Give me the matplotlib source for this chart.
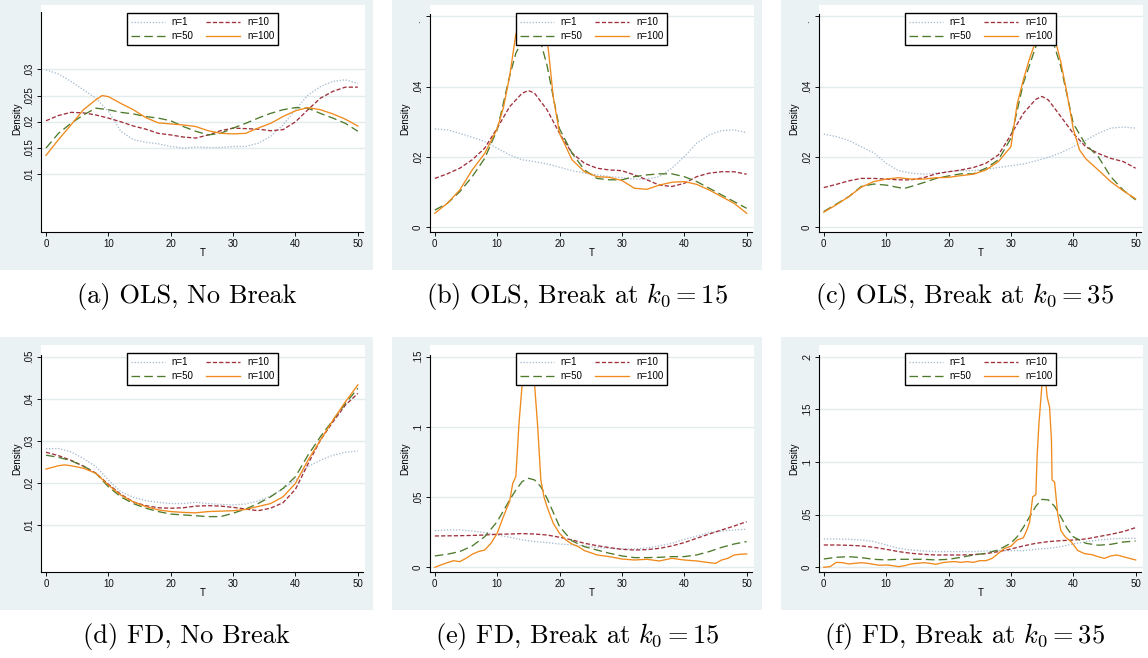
import matplotlib
matplotlib.use("Agg")
import matplotlib.pyplot as plt
from matplotlib.patches import Rectangle

plt.rcParams['mathtext.fontset'] = 'cm'

W, H = 1148, 658
BG = '#EAF2F3'
GRID = '#E2ECEE'
SANS = 'Liberation Sans'

labels = ['n=1', 'n=10', 'n=50', 'n=100']
colors = ['#A9BCD0', '#A0303C', '#4E7A2C', '#F08A1C']
styles = [(0, (1, 1.3)), (0, (3.2, 1.6)), (0, (6.5, 3.2)), '-']

captions = ['(a) OLS, No Break', r'(b) OLS, Break at $k_0 = 15$', r'(c) OLS, Break at $k_0 = 35$',
            '(d) FD, No Break', r'(e) FD, Break at $k_0 = 15$', r'(f) FD, Break at $k_0 = 35$']

t_even = [0, 2, 4, 6, 8, 10, 12, 14, 16, 18, 20, 22, 24, 26, 28, 30, 32, 34, 36, 38, 40, 42, 44, 46, 48, 50]

# (a) OLS, no break
a_n1 = [.0299, .0291, .0277, .0261, .0245, .0220, .0182, .0166, .0161, .0158, .0153, .0150, .0152,
        .0151, .0151, .0153, .0153, .0159, .0172, .0194, .0223, .0251, .0267, .0277, .0280, .0273]
a_n10 = [.0202, .0212, .0218, .0217, .0213, .0207, .0200, .0192, .0186, .0178, .0175, .0171, .0169,
         .0175, .0183, .0188, .0187, .0186, .0183, .0185, .0200, .0223, .0245, .0258, .0266, .0266]
a_n50 = [.0150, .0178, .0197, .0213, .0226, .0223, .0218, .0215, .0210, .0207, .0202, .0191, .0182,
         .0175, .0178, .0188, .0197, .0207, .0216, .0223, .0227, .0226, .0216, .0207, .0197, .0182]
a_x100 = [0, 2, 4, 6, 8, 9, 10, 12, 14, 16, 18, 20, 22, 24, 26, 28, 30, 32, 34, 36, 38, 40, 42, 44, 46, 48, 50]
a_n100 = [.0136, .0166, .0194, .0223, .0242, .0250, .0248, .0235, .0223, .0208, .0198, .0196, .0194,
          .0191, .0183, .0178, .0177, .0178, .0188, .0197, .0210, .0221, .0227, .0223, .0215, .0205, .0192]

# (b) OLS, break at 15
b_n1 = [.0280, .0277, .0267, .0256, .0244, .0225, .0206, .0192, .0187, .0180, .0171, .0161, .0154,
        .0149, .0144, .0141, .0137, .0137, .0144, .0168, .0201, .0239, .0263, .0275, .0277, .0269]
b_x10 = [0, 2, 4, 6, 8, 10, 12, 14, 15, 16, 18, 20, 22, 24, 26, 28, 30, 32, 34, 36, 38, 40, 42, 44, 46, 48, 50]
b_n10 = [.0139, .0152, .0168, .0192, .0225, .0282, .0343, .0381, .0389, .0381, .0334, .0267, .0211,
         .0182, .0168, .0163, .0161, .0149, .0135, .0120, .0116, .0125, .0144, .0154, .0158, .0158, .0151]
b_x50 = [0, 2, 4, 6, 8, 10, 12, 13, 14, 15, 16, 17, 18, 20, 22, 24, 26, 28, 30, 32, 34, 36, 38, 40, 42, 44, 46, 48, 50]
b_n50 = [.0049, .0068, .0101, .0144, .0196, .0277, .0430, .0495, .0530, .0548, .0545, .0525, .0460,
         .0280, .0211, .0163, .0139, .0135, .0135, .0144, .0149, .0152, .0152, .0144, .0130, .0111, .0092, .0073, .0054]
b_x100 = [0, 2, 4, 6, 8, 10, 11, 12, 13, 14, 15, 16, 17, 18, 19, 20, 22, 24, 26, 28, 30, 32, 34, 36, 38,
          40, 42, 44, 46, 48, 50]
b_n100 = [.0040, .0068, .0106, .0163, .0210, .0280, .0340, .0429, .0550, .0580, .0590, .0590, .0580,
          .0540, .0370, .0267, .0192, .0158, .0144, .0142, .0133, .0111, .0108, .0120, .0128, .0130, .0122,
          .0106, .0087, .0068, .0040]

# (c) OLS, break at 35
c_n1 = [.0265, .0258, .0247, .0229, .0212, .0182, .0161, .0154, .0151, .0154, .0158, .0161, .0161,
        .0165, .0170, .0175, .0180, .0189, .0199, .0212, .0229, .0248, .0267, .0282, .0285, .0282]
c_x10 = [0, 2, 4, 6, 8, 10, 12, 14, 16, 18, 20, 22, 24, 26, 28, 30, 32, 34, 35, 36, 38, 40, 42, 44, 46, 48, 50]
c_n10 = [.0113, .0122, .0132, .0139, .0139, .0137, .0135, .0135, .0141, .0152, .0158, .0163, .0170,
         .0182, .0206, .0263, .0324, .0364, .0372, .0362, .0315, .0267, .0229, .0210, .0196, .0187, .0168]
c_x50 = [0, 2, 4, 6, 8, 10, 12, 13, 14, 16, 18, 20, 22, 24, 26, 28, 30, 32, 34, 35, 36, 37, 38, 40, 42, 44, 46, 48, 50]
c_n50 = [.0045, .0066, .0087, .0116, .0123, .0120, .0113, .0111, .0116, .0127, .0139, .0146, .0152,
         .0152, .0168, .0192, .0253, .0410, .0514, .0545, .0545, .0514, .0457, .0295, .0235, .0201, .0144, .0106, .0078]
c_x100 = [0, 2, 4, 6, 8, 10, 12, 14, 16, 18, 20, 22, 24, 26, 28, 30, 31, 32, 33, 34, 35, 36, 37, 38, 39,
          40, 41, 42, 44, 46, 48, 50]
c_n100 = [.0043, .0064, .0087, .0114, .0130, .0137, .0141, .0137, .0137, .0141, .0142, .0147, .0151,
          .0163, .0187, .0229, .0350, .0420, .0480, .0530, .0565, .0570, .0540, .0470, .0380, .0280, .0220,
          .0195, .0163, .0130, .0104, .0081]

# (d) FD, no break
d_n1 = [.0281, .0282, .0274, .0258, .0239, .0207, .0179, .0166, .0158, .0154, .0151, .0151, .0154,
        .0151, .0149, .0148, .0150, .0157, .0169, .0186, .0207, .0239, .0254, .0266, .0273, .0276]
d_n10 = [.0273, .0265, .0254, .0240, .0223, .0197, .0173, .0155, .0146, .0141, .0140, .0141, .0145,
         .0146, .0145, .0142, .0138, .0134, .0140, .0153, .0185, .0245, .0302, .0345, .0385, .0413]
d_n50 = [.0266, .0261, .0253, .0240, .0223, .0191, .0167, .0151, .0140, .0132, .0126, .0124, .0122,
         .0120, .0120, .0128, .0138, .0151, .0167, .0187, .0215, .0266, .0310, .0349, .0389, .0425]
d_x100 = [0, 2, 3, 4, 6, 8, 10, 12, 14, 16, 18, 20, 22, 24, 26, 28, 30, 32, 34, 36, 38, 40, 42, 44, 46, 48, 50]
d_n100 = [.0233, .0241, .0243, .0241, .0235, .0223, .0195, .0171, .0155, .0144, .0136, .0132, .0130,
          .0129, .0132, .0133, .0134, .0137, .0144, .0151, .0167, .0199, .0254, .0302, .0349, .0393, .0433]

# (e) FD, break at 15
e_n1 = [.0261, .0266, .0266, .0259, .0247, .0230, .0214, .0195, .0183, .0176, .0166, .0159, .0152,
        .0142, .0135, .0131, .0131, .0138, .0152, .0171, .0199, .0223, .0247, .0259, .0266, .0271]
e_n10 = [.0223, .0224, .0225, .0227, .0230, .0235, .0237, .0240, .0237, .0230, .0214, .0195, .0171,
         .0154, .0140, .0128, .0123, .0126, .0135, .0152, .0176, .0207, .0237, .0266, .0294, .0325]
e_x50 = [0, 2, 4, 6, 8, 10, 12, 13, 14, 15, 16, 17, 18, 20, 22, 24, 26, 28, 30, 32, 34, 36, 38, 40, 42, 44, 46, 48, 50]
e_n50 = [.0081, .0093, .0112, .0152, .0218, .0325, .0479, .0551, .0610, .0634, .0622, .0574, .0491,
         .0290, .0188, .0147, .0123, .0100, .0081, .0069, .0069, .0071, .0076, .0076, .0088, .0112, .0142, .0166, .0183]
e_x100 = [0, 1, 2, 3, 4, 5, 6, 7, 8, 9, 10, 11, 12, 12.5, 13, 13.5, 14, 14.5, 15, 15.5, 16, 16.5, 17, 17.5,
          18, 19, 20, 21, 22, 23, 24, 25, 26, 28, 30, 32, 34, 36, 38, 40, 42, 44, 45, 46, 47, 48, 49, 50]
e_n100 = [.0000, .0017, .0033, .0047, .0040, .0064, .0093, .0112, .0123, .0171, .0242, .0361, .0470,
          .0598, .0646, .1025, .1300, .1450, .1500, .1460, .1300, .1000, .0622, .0503, .0430, .0313, .0242,
          .0195, .0166, .0147, .0119, .0104, .0088, .0076, .0059, .0052, .0057, .0045, .0064, .0052, .0045,
          .0033, .0028, .0052, .0064, .0088, .0093, .0095]

# (f) FD, break at 35
f_n1 = [.0269, .0270, .0266, .0260, .0244, .0212, .0180, .0165, .0155, .0149, .0149, .0149, .0149,
        .0155, .0158, .0158, .0158, .0171, .0180, .0196, .0222, .0244, .0259, .0269, .0275, .0275]
f_n10 = [.0212, .0212, .0209, .0203, .0190, .0171, .0149, .0133, .0123, .0117, .0117, .0117, .0120,
         .0130, .0149, .0174, .0203, .0228, .0244, .0253, .0259, .0269, .0291, .0313, .0339, .0377]
f_x50 = [0, 2, 4, 6, 8, 10, 12, 14, 16, 18, 20, 22, 24, 26, 28, 30, 31, 32, 33, 34, 35, 36, 37, 38, 39,
         40, 42, 44, 46, 48, 50]
f_n50 = [.0079, .0095, .0101, .0092, .0076, .0070, .0076, .0076, .0076, .0070, .0076, .0095, .0117,
         .0133, .0165, .0230, .0290, .0380, .0480, .0580, .0645, .0640, .0580, .0480, .0370, .0290, .0228,
         .0210, .0218, .0240, .0250]
f_x100 = [0, 1, 2, 3, 4, 5, 6, 7, 8, 9, 10, 11, 12, 13, 14, 15, 16, 17, 18, 19, 20, 21, 22, 23, 24, 25,
          26, 27, 28, 29, 30, 31, 32, 32.6, 33, 33.5, 34, 34.2, 34.5, 35, 35.4, 35.8, 36.2, 36.5, 36.6, 37,
          37.5, 38, 38.7, 39.7, 40.7, 41.8, 43, 44, 45, 46, 47, 48, 49, 50]
f_n100 = [.0000, .0006, .0047, .0044, .0032, .0038, .0044, .0038, .0028, .0019, .0022, .0016, .0006,
          .0016, .0032, .0038, .0044, .0038, .0028, .0044, .0051, .0054, .0047, .0054, .0047, .0063, .0063,
          .0085, .0133, .0180, .0200, .0260, .0280, .0360, .0430, .0670, .0690, .1050, .1370, .1750, .1900,
          .1620, .1520, .1210, .0830, .0810, .0510, .0350, .0290, .0240, .0160, .0130, .0120, .0100, .0085,
          .0108, .0117, .0101, .0085, .0070]

series = [
    [(t_even, a_n1), (t_even, a_n10), (t_even, a_n50), (a_x100, a_n100)],
    [(t_even, b_n1), (b_x10, b_n10), (b_x50, b_n50), (b_x100, b_n100)],
    [(t_even, c_n1), (c_x10, c_n10), (c_x50, c_n50), (c_x100, c_n100)],
    [(t_even, d_n1), (t_even, d_n10), (t_even, d_n50), (d_x100, d_n100)],
    [(t_even, e_n1), (t_even, e_n10), (e_x50, e_n50), (e_x100, e_n100)],
    [(t_even, f_n1), (t_even, f_n10), (f_x50, f_n50), (f_x100, f_n100)],
]

yticks = [[.01, .015, .02, .025, .03], [0, .02, .04, .06], [0, .02, .04, .06],
          [.01, .02, .03, .04, .05], [0, .05, .1, .15], [0, .05, .1, .15, .2]]
# the top label of (b) and (c) is cut down to its dot in the original
ytlabels = [['.01', '.015', '.02', '.025', '.03'], ['0', '.02', '.04', '.    '], ['0', '.02', '.04', '.    '],
            ['.01', '.02', '.03', '.04', '.05'], ['0', '.05', '.1', '.15'], ['0', '.05', '.1', '.15', '.2']]
ylims = [(-.00105, .04225), (-.00142, .0632), (-.00142, .0632),
         (-.00124, .0528), (-.00356, .1583), (-.00474, .2111)]
yspine_top = [.041, .0605, .0605, .0505, .1512, .2015]

# layout in pixels
bg_cols = [(0, 373), (392, 762), (781, 1148)]
bg_rows = [(0, 270), (337, 610)]
ax_left = [40.7, 429.5, 818.5]
ax_w = 324.0
ax_top = [5, 345]
ax_h = 227.3
cap_y = [297, 637]

fig = plt.figure(figsize=(W / 100, H / 100), dpi=100)
fig.patch.set_facecolor('white')

for i in range(6):
    r, c = divmod(i, 3)
    x0, x1 = bg_cols[c]
    y0, y1 = bg_rows[r]
    fig.add_artist(Rectangle((x0 / W, 1 - y1 / H), (x1 - x0) / W, (y1 - y0) / H,
                             transform=fig.transFigure, facecolor=BG, edgecolor='none', zorder=-5))

    ax = fig.add_axes([ax_left[c] / W, 1 - (ax_top[r] + ax_h) / H, ax_w / W, ax_h / H])
    ax.set_facecolor('white')
    handles = []
    for (xs, ys), col, ls, lab in zip(series[i], colors, styles, labels):
        ln, = ax.plot(xs, ys, color=col, linestyle=ls, lw=0.95, label=lab)
        handles.append(ln)

    ax.set_xlim(-0.85, 51.1)
    ax.set_ylim(*ylims[i])
    ax.set_xticks([0, 10, 20, 30, 40, 50])
    ax.set_yticks(yticks[i])
    ax.set_yticklabels(ytlabels[i])
    ax.set_axisbelow(True)
    ax.grid(axis='y', color=GRID, lw=1.0)
    for s in ['top', 'right']:
        ax.spines[s].set_visible(False)
    ax.spines['left'].set_bounds(ylims[i][0], yspine_top[i])
    ax.spines['bottom'].set_bounds(-0.85, 50.9)
    for s in ['left', 'bottom']:
        ax.spines[s].set_linewidth(0.8)
    ax.tick_params(length=2.6, width=0.7, pad=2, labelsize=7, direction='out', colors='#111111')
    for lab in ax.get_xticklabels() + ax.get_yticklabels():
        lab.set_family(SANS)
    for lab in ax.get_yticklabels():
        lab.set_rotation(90)
        lab.set_va('center')

    ax.set_ylabel('Density', fontsize=7, family=SANS)
    ax.yaxis.set_label_coords(-0.058, 0.5)
    ax.set_xlabel('T', fontsize=7, family=SANS)
    ax.xaxis.set_label_coords(0.5, -0.069)

    order = [handles[0], handles[2], handles[1], handles[3]]
    leg = ax.legend(order, [h.get_label() for h in order], ncol=2, loc='upper center',
                    bbox_to_anchor=(0.5, 0.9635), borderaxespad=0, frameon=True, fancybox=False,
                    framealpha=1, edgecolor='black', prop={'family': SANS, 'size': 7},
                    handlelength=3.5, handletextpad=0.7, columnspacing=1.3, borderpad=0.4,
                    labelspacing=0.4)
    leg.get_frame().set_linewidth(1.0)
    leg.set_zorder(10)

    fig.text((x0 + x1) / 2 / W, 1 - cap_y[r] / H, captions[i], ha='center', va='center',
             fontsize=19, family='cmr10')

fig.savefig('out.png', dpi=100)
